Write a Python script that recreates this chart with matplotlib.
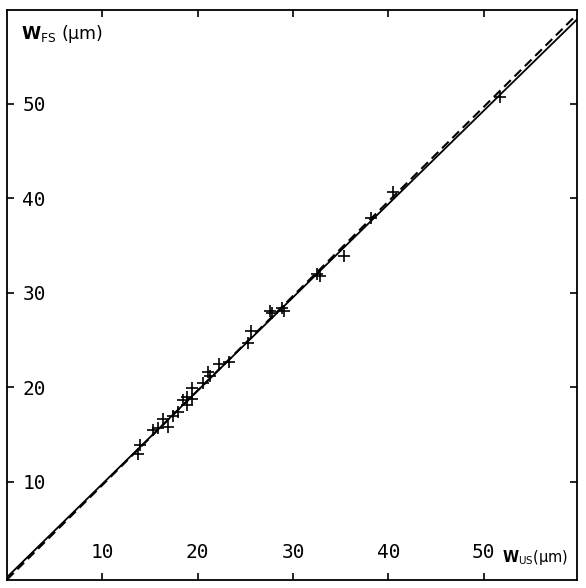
import numpy as np
import matplotlib
matplotlib.use("Agg")
import matplotlib.pyplot as plt

# valores (W_US, W_FS) em micrometros
w_us = [13.96, 13.75, 15.32, 15.84, 16.37, 16.89, 17.42, 17.94, 18.47, 18.89,
        19.41, 18.89, 19.41, 20.57, 21.09, 21.30, 22.25, 23.29, 25.29, 25.60,
        27.60, 27.80, 28.86, 29.07, 32.50, 32.84, 35.36, 38.20, 40.50, 51.70]
w_fs = [13.92, 12.96, 15.50, 15.71, 16.67, 15.82, 16.99, 17.41, 18.67, 18.99,
        18.78, 18.15, 19.95, 20.48, 21.64, 21.22, 22.49, 22.70, 24.71, 25.98,
        28.10, 27.80, 28.41, 28.09, 32.00, 31.80, 33.92, 37.90, 40.60, 50.74]

# retas: continua (ajuste) e tracejada
a_cont, b_cont = -0.1, 0.987
a_trac, b_trac = -0.35, 1.0

ticks = [10, 20, 30, 40, 50]

fig = plt.figure(figsize=(5.86, 5.88), dpi=100)
ax = fig.add_axes([0.012, 0.0136, 0.973, 0.9694])

x = np.array([0.0, 60.0])
ax.plot(x, a_cont + b_cont*x, color="black", lw=1.3)
ax.plot(x, a_trac + b_trac*x, color="black", lw=1.5, dashes=(4.5, 2.5))
ax.plot(w_us, w_fs, "+", color="black", ms=9, mew=1.2)

ax.set_xlim(0, 59.8)
ax.set_ylim(-0.4, 59.9)
ax.set_xticks(ticks)
ax.set_yticks(ticks)
ax.set_xticklabels([str(t) for t in ticks])
ax.set_yticklabels([str(t) for t in ticks])
ax.tick_params(direction="in", top=True, right=True, length=5, width=1.2,
               labelsize=14)
ax.tick_params(axis="y", pad=-11)
ax.tick_params(axis="x", pad=-13)
for lab in ax.get_yticklabels():
    lab.set_ha("left")
    lab.set_family("DejaVu Sans Mono")
for lab in ax.get_xticklabels():
    lab.set_va("bottom")
    lab.set_family("DejaVu Sans Mono")
for s in ax.spines.values():
    s.set_linewidth(1.3)

ax.text(0.025, 0.978, r"$\mathbf{W}_{\mathrm{FS}}$ (μm)", transform=ax.transAxes,
        ha="left", va="top", fontsize=12.5)
ax.text(0.984, 0.022, r"$\mathbf{W}_{\mathrm{US}}$(μm)", transform=ax.transAxes,
        ha="right", va="bottom", fontsize=10.5)

fig.savefig("out.png", dpi=100)
